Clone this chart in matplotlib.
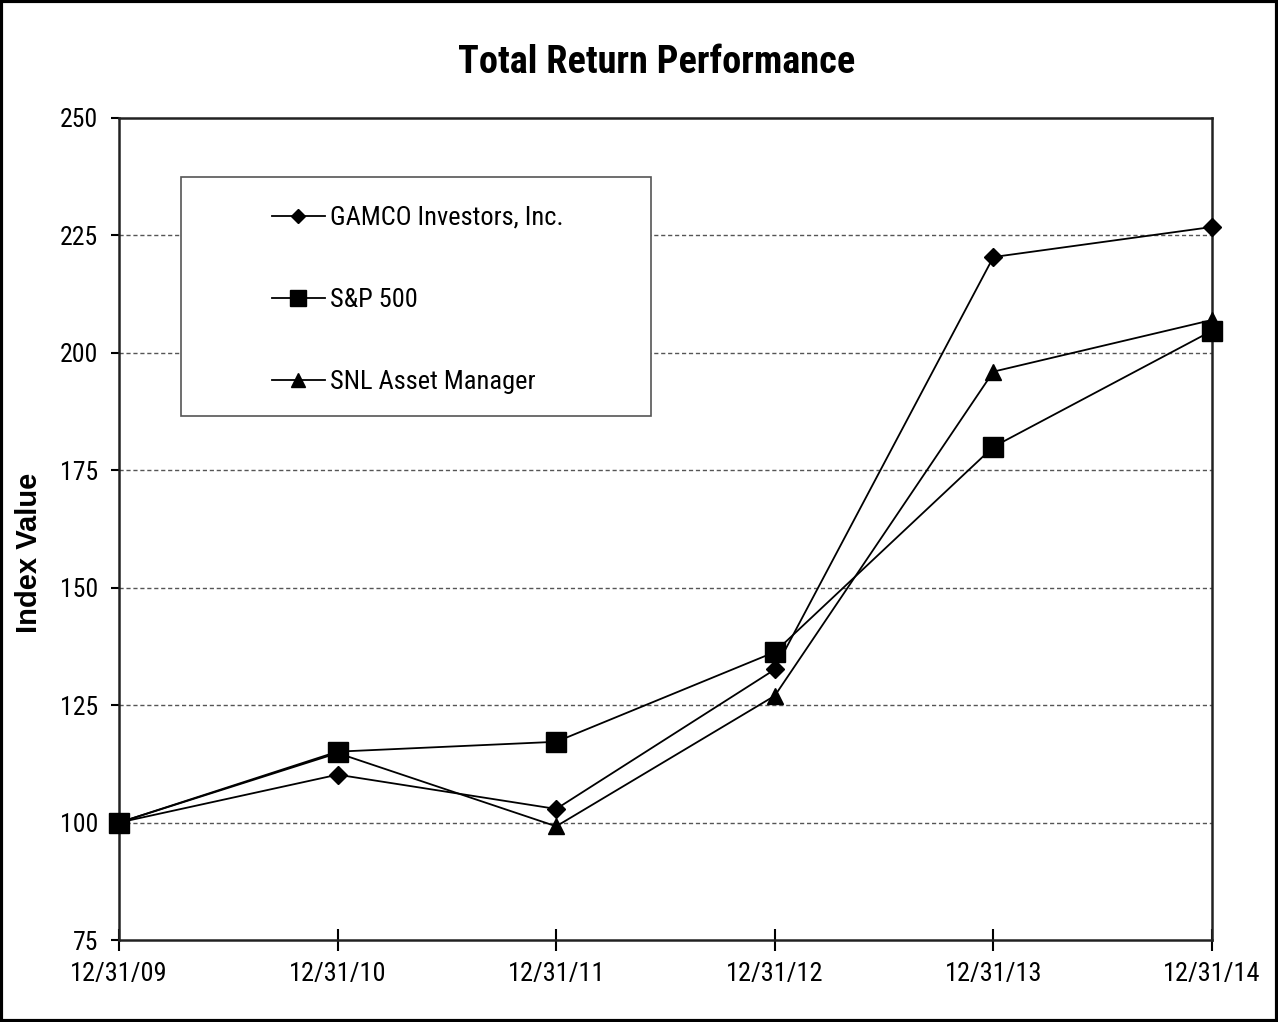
import matplotlib
matplotlib.use("Agg")
import matplotlib.pyplot as plt
from matplotlib.patches import Rectangle

dates = ["12/31/09", "12/31/10", "12/31/11", "12/31/12", "12/31/13", "12/31/14"]
gamco = [100.0, 110.2, 102.9, 132.6, 220.4, 226.8]
sp500 = [100.0, 115.1, 117.2, 136.3, 180.0, 204.7]
snl = [100.0, 114.8, 99.2, 127.0, 196.0, 207.0]
series_names = ["GAMCO Investors, Inc.", "S&P 500", "SNL Asset Manager"]
yticks = [75, 100, 125, 150, 175, 200, 225, 250]

narrow = ["Roboto Condensed", "DejaVu Sans"]
wide = ["Liberation Sans", "DejaVu Sans"]

fig = plt.figure(figsize=(12.78, 10.22), dpi=100)
W, H = 1278, 1022
ax = fig.add_axes([119 / W, 1 - 940 / H, (1212 - 119) / W, (940 - 118) / H])

x = list(range(len(dates)))
ax.plot(x, gamco, color="black", lw=1.3, marker="D", ms=9, mfc="black", mec="black",
        label=series_names[0], clip_on=False, zorder=3)
ax.plot(x, sp500, color="black", lw=1.3, marker="s", ms=14, mfc="black", mec="black",
        label=series_names[1], clip_on=False, zorder=3)
ax.plot(x, snl, color="black", lw=1.3, marker="^", ms=12, mfc="black", mec="black",
        label=series_names[2], clip_on=False, zorder=3)

ax.set_xlim(0, len(dates) - 1)
ax.set_ylim(75, 250)
ax.set_yticks(yticks)
ax.set_xticks(x)
ax.set_xticklabels(dates, fontfamily=narrow, fontsize=19)
ax.set_yticklabels([str(v) for v in yticks], fontfamily=narrow, fontsize=18.5)
for v in yticks[1:-1]:
    ax.axhline(v, color="#555555", lw=1.0, ls=(0, (3, 2)), zorder=0)

for s in ax.spines.values():
    s.set_linewidth(1.8)
    s.set_color("#222222")
ax.tick_params(axis="x", direction="inout", length=16, width=1.5, pad=8)
ax.tick_params(axis="y", direction="out", length=6, width=1.5, pad=9)

ax.set_ylabel("Index Value", fontfamily=wide, fontweight="bold", fontsize=21)
ax.yaxis.set_label_coords((43 - 119) / 1093, (940 - 553) / 822)
fig.text(657 / W, 1 - 62 / H, "Total Return Performance", ha="center", va="center",
         fontfamily=narrow, fontweight="bold", fontsize=27.5)

# legend box
ax.add_patch(Rectangle((181 / W, 1 - 416 / H), (651 - 181) / W, (416 - 177) / H,
                       transform=fig.transFigure, fill=True, facecolor="white",
                       edgecolor="#555555", lw=1.2, zorder=5))
leg = ax.legend(loc="upper left", bbox_to_anchor=(248 / W, 1 - 182 / H), bbox_transform=fig.transFigure,
                frameon=False, prop={"family": narrow, "size": 19}, labelspacing=2.2,
                handlelength=2.0, handletextpad=0.2, markerscale=0.8)
leg.set_zorder(6)

# outer border
fig.add_artist(Rectangle((0.001, 0.001), 0.998, 0.998, transform=fig.transFigure,
                         fill=False, edgecolor="black", lw=3))

fig.savefig("out.png", dpi=100)
